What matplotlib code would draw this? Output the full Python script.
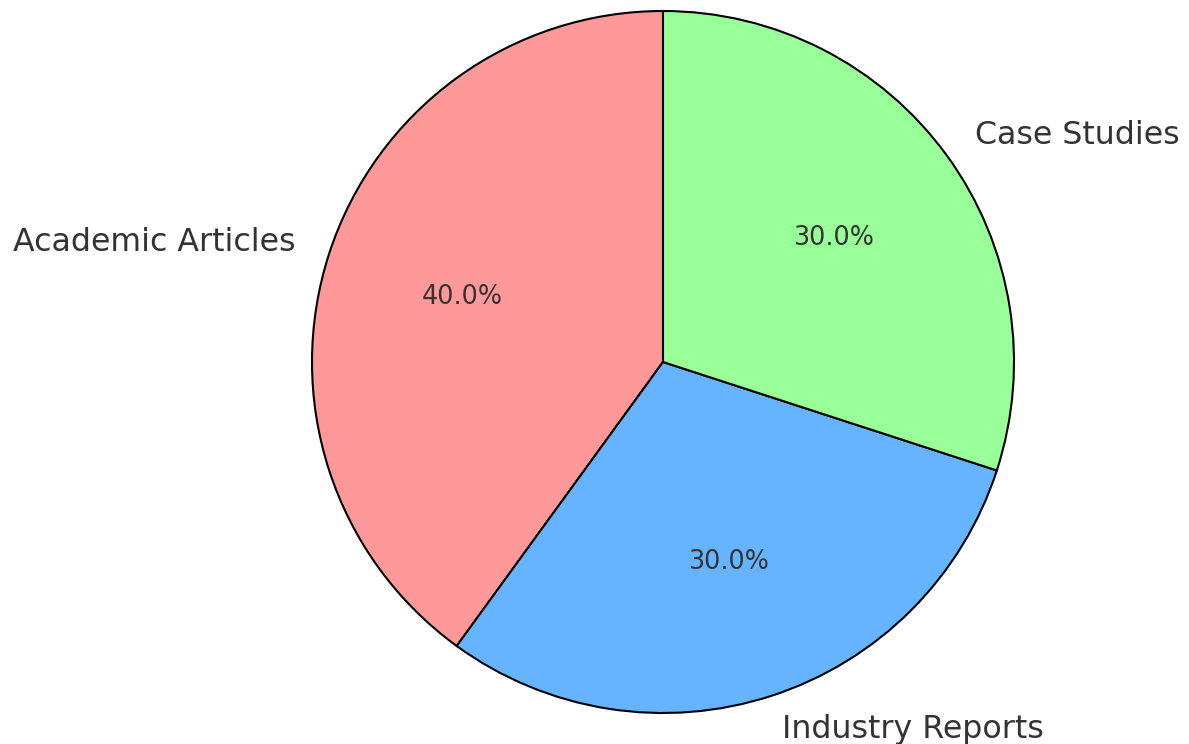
import matplotlib
matplotlib.use('Agg')
import matplotlib.pyplot as plt

# data
labels = ['Academic Articles', 'Industry Reports', 'Case Studies']
sizes = [40, 30, 30]
colors = ['#ff9999', '#66b3ff', '#99ff99']

fig = plt.figure(figsize=(11.89, 7.44), dpi=100)
ax = fig.add_axes([0, 0, 1, 1])

wedges, texts, autotexts = ax.pie(
    sizes, labels=labels, colors=colors, autopct='%1.1f%%',
    startangle=90, counterclock=True,
    wedgeprops={'edgecolor': 'black', 'linewidth': 1.5},
    textprops={'color': '#333333'})

for t in texts:
    t.set_fontsize(22.8)
for t in autotexts:
    t.set_fontsize(18.4)

# map radius 1 -> 351 px, centre at (663, 362) from top-left
r = 351.0
ax.set_xlim(-663 / r, (1189 - 663) / r)
ax.set_ylim(-(744 - 362) / r, 362 / r)
ax.set_aspect('equal', adjustable='datalim')
ax.axis('off')

fig.savefig('out.png', dpi=100)
